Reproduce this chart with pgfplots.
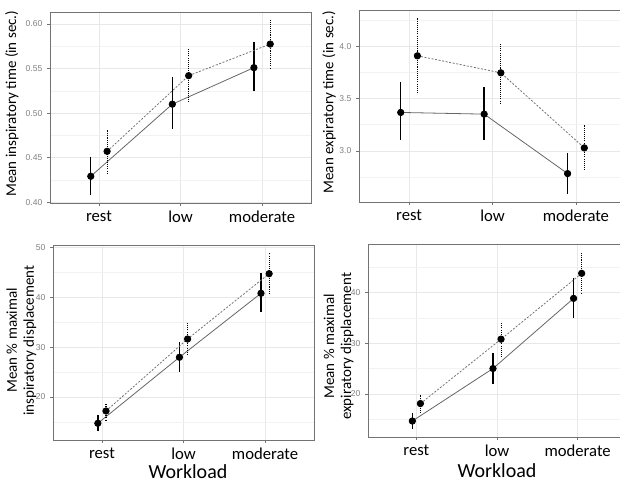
\documentclass[border=0pt]{standalone}
\usepackage{fontspec}
\setmainfont{Carlito}
\newfontfamily\arialf{Liberation Sans}
\usepackage{pgfplots}
\pgfplotsset{compat=1.18}
\usepackage{pgfplotstable}

% x  y  hi  lo
\pgfplotstableread{
x y hi lo
0.9 0.429 0.451 0.408
1.9 0.510 0.540 0.482
2.9 0.551 0.580 0.525
}\tlsolid
\pgfplotstableread{
x y hi lo
1.1 0.457 0.481 0.433
2.1 0.542 0.572 0.511
3.1 0.5775 0.604 0.549
}\tldash
\pgfplotstableread{
x y hi lo
0.9 3.367 3.656 3.102
1.9 3.351 3.611 3.102
2.9 2.784 2.981 2.593
}\trsolid
\pgfplotstableread{
x y hi lo
1.1 3.907 4.265 3.541
2.1 3.745 4.026 3.446
3.1 3.029 3.243 2.809
}\trdash
\pgfplotstableread{
x y hi lo
0.95 14.73 16.39 13.19
1.95 27.96 31.08 25.0
2.95 40.78 44.91 36.97
}\blsolid
\pgfplotstableread{
x y hi lo
1.05 17.19 18.86 15.39
2.05 31.62 34.97 28.22
3.05 44.71 48.8 40.44
}\bldash
\pgfplotstableread{
x y hi lo
0.95 14.65 16.24 13.15
1.95 25.03 28.0 22.06
2.95 38.89 42.85 35.05
}\brsolid
\pgfplotstableread{
x y hi lo
1.05 18.1 19.88 16.12
2.05 30.83 33.94 27.33
3.05 43.84 48.0 39.68
}\brdash

\pgfplotsset{
  panel/.style={
    scale only axis, anchor=south west,
    xmin=0.4, xmax=3.6, xtick={1,2,3}, xticklabels={rest,low,moderate},
    grid=both,
    major grid style={black!9, line width=0.6pt},
    minor grid style={black!5, line width=0.35pt},
    axis line style={black!55, line width=0.7pt},
    tick align=outside, tick pos=left,
    major tick length=2.2pt, minor tick length=0pt,
    tick style={black!55, line width=0.5pt},
    /pgf/number format/assume math mode=true,
    yticklabel style={font=\arialf\fontsize{6.4}{7}\selectfont, text=black!50},
    xticklabel style={font=\fontsize{12.5}{14}\selectfont, text=black},
    ylabel style={font=\fontsize{11.25}{12.75}\selectfont, anchor=center, align=center},
    xlabel style={font=\fontsize{15}{17}\selectfont, anchor=base},
  },
  solidser/.style={black!60, line width=0.6pt, solid, mark=*, mark size=2.4pt,
    mark options={black, fill=black, solid},
    error bars/.cd, y dir=both, y explicit, error mark=none,
    error bar style={black, line width=1pt, solid}},
  dashser/.style={black!55, line width=0.6pt, dash pattern=on 1.5pt off 1.2pt, mark=*, mark size=2.4pt,
    mark options={black, fill=black, solid},
    error bars/.cd, y dir=both, y explicit, error mark=none,
    error bar style={black, line width=0.8pt, dash pattern=on 0.8pt off 0.8pt}},
}
\newcommand{\errplot}[2]{%
  \addplot[#1] table[x=x, y=y, y error plus expr=\thisrow{hi}-\thisrow{y}, y error minus expr=\thisrow{y}-\thisrow{lo}] {#2};}

\begin{document}
\begin{tikzpicture}
\useasboundingbox (0pt,0pt) rectangle (465pt,361.5pt);
\clip (0pt,0pt) rectangle (465pt,361.5pt);

% top-left
\begin{axis}[panel, at={(37.5pt,209.25pt)}, width=195.75pt, height=143.25pt,
  ymin=0.399, ymax=0.6135, ytick={0.40,0.45,0.50,0.55,0.60},
  minor ytick={0.425,0.475,0.525,0.575},
  yticklabel style={/pgf/number format/.cd, fixed, fixed zerofill, precision=2},
  ylabel={Mean inspiratory time (in sec.)},
  ylabel style={at={(axis description cs:-0.146,0.52)}}]
\errplot{solidser}{\tlsolid}
\errplot{dashser}{\tldash}
\end{axis}

% top-right
\begin{axis}[panel, at={(269.25pt,210pt)}, width=200.25pt, height=144pt,
  ymin=2.513, ymax=4.344, ytick={3.0,3.5,4.0},
  minor ytick={2.75,3.25,3.75,4.25},
  yticklabel style={/pgf/number format/.cd, fixed, fixed zerofill, precision=1},
  ylabel={Mean expiratory time (in sec.)},
  ylabel style={at={(axis description cs:-0.112,0.52)}}]
\errplot{solidser}{\trsolid}
\errplot{dashser}{\trdash}
\end{axis}

% bottom-left
\begin{axis}[panel, at={(39.75pt,31.5pt)}, width=195.75pt, height=146.25pt,
  ymin=11.38, ymax=50.46, ytick={20,30,40,50},
  minor ytick={15,25,35,45},
  ylabel={Mean \% maximal\\inspiratory displacement},
  ylabel style={at={(axis description cs:-0.121,0.51)}},
  xlabel={Workload},
  xlabel style={at={(axis description cs:0.517,-0.195)}}]
\errplot{solidser}{\blsolid}
\errplot{dashser}{\bldash}
\end{axis}

% bottom-right
\begin{axis}[panel, at={(276pt,33.75pt)}, width=193.5pt, height=144.75pt,
  ymin=11.49, ymax=49.64, ytick={20,30,40},
  minor ytick={15,25,35,45},
  ylabel={Mean \% maximal\\expiratory displacement},
  ylabel style={at={(axis description cs:-0.114,0.47)}},
  xlabel={Workload},
  xlabel style={at={(axis description cs:0.5,-0.212)}}]
\errplot{solidser}{\brsolid}
\errplot{dashser}{\brdash}
\end{axis}
\end{tikzpicture}
\end{document}
